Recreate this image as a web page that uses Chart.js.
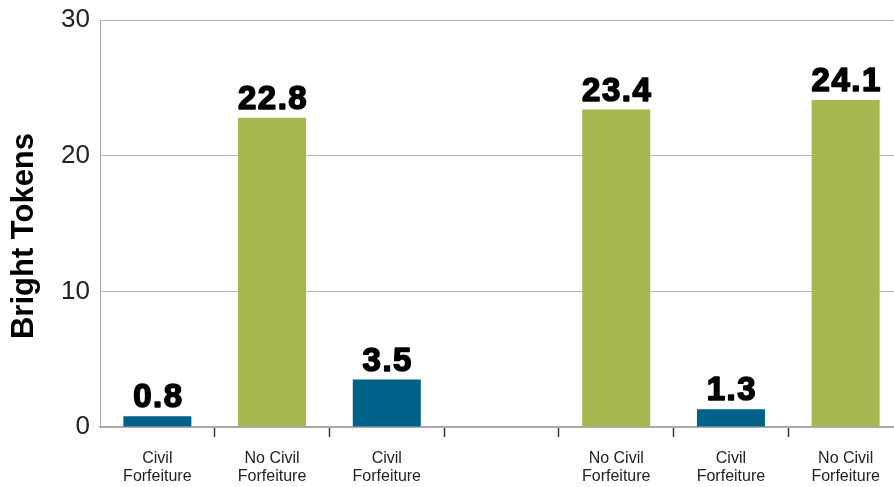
<!DOCTYPE html>
<html>
<head>
<meta charset="utf-8">
<script src="https://cdn.jsdelivr.net/npm/chart.js@4"></script>
<style>
  html, body { margin: 0; padding: 0; background: #fff; overflow: hidden; }
  #wrap { width: 903px; height: 487px; position: relative; }
</style>
</head>
<body>
<div id="wrap"><canvas id="tokens"></canvas></div>
<script>
const categories = [
  ['Civil', 'Forfeiture'],
  ['No Civil', 'Forfeiture'],
  ['Civil', 'Forfeiture'],
  '',
  ['No Civil', 'Forfeiture'],
  ['Civil', 'Forfeiture'],
  ['No Civil', 'Forfeiture']
]
const tokens = [0.8, 22.8, 3.5, null, 23.4, 1.3, 24.1]
const groups = ['civil', 'none', 'civil', null, 'none', 'civil', 'none']
const yTicks = [0, 10, 20, 30]
const yTitle = 'Bright Tokens'

const BLUE = '#006189'
const GREEN = '#a5b74e'
const FONT = '"Liberation Sans", Arial, sans-serif'

// valeurs au-dessus des barres + titre de l'axe y
const valueLabels = {
  id: 'valueLabels',
  afterDatasetsDraw(chart) {
    const ctx = chart.ctx
    const meta = chart.getDatasetMeta(0)
    ctx.save()
    ctx.font = 'bold 33px ' + FONT
    ctx.letterSpacing = '1.5px'
    ctx.textAlign = 'center'
    ctx.textBaseline = 'alphabetic'
    ctx.fillStyle = '#000'
    ctx.strokeStyle = '#000'
    ctx.lineWidth = 1.6
    ctx.lineJoin = 'round'
    meta.data.forEach((bar, i) => {
      const v = tokens[i]
      if (v === null) return
      const txt = v.toFixed(1)
      ctx.fillText(txt, bar.x + 1, bar.y - 9)
      ctx.strokeText(txt, bar.x + 1, bar.y - 9)
    })
    ctx.restore()

    ctx.save()
    ctx.translate(33, 236)
    ctx.rotate(-Math.PI / 2)
    ctx.font = 'bold 31px ' + FONT
    ctx.textAlign = 'center'
    ctx.textBaseline = 'alphabetic'
    ctx.fillStyle = '#000'
    ctx.fillText(yTitle, 0, 0)
    ctx.restore()
  }
}

new Chart(document.getElementById('tokens'), {
  type: 'bar',
  data: {
    labels: categories,
    datasets: [{
      data: tokens,
      backgroundColor: groups.map(g => g === 'civil' ? BLUE : GREEN),
      categoryPercentage: 1,
      barPercentage: 0.593
    }]
  },
  options: {
    responsive: true,
    maintainAspectRatio: false,
    animation: false,
    layout: { padding: { top: 20, right: 0, left: 0, bottom: 0 } },
    plugins: {
      legend: { display: false },
      tooltip: { enabled: false }
    },
    scales: {
      x: {
        grid: {
          drawOnChartArea: false,
          offset: true,
          tickLength: 10,
          tickWidth: 1.5,
          tickColor: c => c.index === 0 ? 'rgba(0,0,0,0)' : '#333'
        },
        border: { color: '#a6a6a6', width: 1.5 },
        ticks: {
          color: '#222',
          font: { family: FONT, size: 16, lineHeight: 1.1 },
          padding: 13,
          maxRotation: 0,
          autoSkip: false
        },
        afterFit: s => { s.height = 60 }
      },
      y: {
        min: 0,
        max: 30,
        afterBuildTicks: s => { s.ticks = yTicks.map(v => ({ value: v })) },
        grid: { color: '#b5b5b5', drawTicks: false, lineWidth: 1 },
        border: { color: '#a6a6a6', width: 1 },
        ticks: {
          color: '#222',
          font: { family: FONT, size: 26, lineHeight: 0.75 },
          padding: 10
        },
        afterFit: s => { s.width = 100 }
      }
    }
  },
  plugins: [valueLabels]
})
</script>
</body>
</html>
